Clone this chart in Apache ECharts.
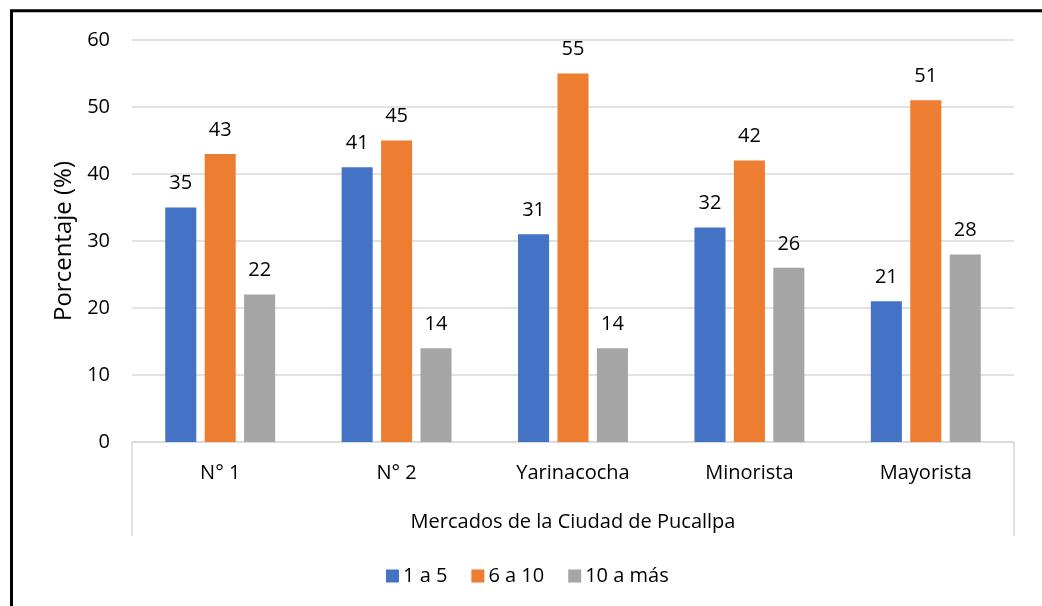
<!DOCTYPE html>
<html>
<head>
<meta charset="utf-8">
<script src="https://cdn.jsdelivr.net/npm/echarts@6/dist/echarts.min.js"></script>
<style>
  html, body { margin: 0; padding: 0; background: #fff; }
  #chart { width: 1042px; height: 606px; }
</style>
</head>
<body>
<div id="chart"></div>
<script>
// Mercados de Pucallpa: distribution by group (percent)
const categories = ['N° 1', 'N° 2', 'Yarinacocha', 'Minorista', 'Mayorista'];
const seriesNames = ['1 a 5', '6 a 10', '10 a más'];
const valuesA = [35, 41, 31, 32, 21];   // 1 a 5
const valuesB = [43, 45, 55, 42, 51];   // 6 a 10
const valuesC = [22, 14, 14, 26, 28];   // 10 a más
const yTicks = { min: 0, max: 60, interval: 10 };

const colors = ['#4472C4', '#ED7D31', '#A5A5A5'];
const FONT = '"Open Sans", "Noto Sans", sans-serif';
const TEXT = '#000000';

const gridLeft = 132, gridRight = 28, gridTop = 40, gridBottom = 164;
const W = 1042, H = 606;

const chart = echarts.init(document.getElementById('chart'), null, { renderer: 'canvas' });

function barSeries(name, data, color) {
  return {
    name: name,
    type: 'bar',
    data: data,
    barWidth: '17.6%',
    barGap: '27%',
    itemStyle: { color: color },
    label: {
      show: true,
      position: 'top',
      distance: 14,
      color: TEXT,
      fontFamily: FONT,
      fontSize: 20
    }
  };
}

const axisBottom = H - gridBottom;
const bracketBottom = 536;

chart.setOption({
  animation: false,
  backgroundColor: '#ffffff',
  textStyle: { fontFamily: FONT, color: TEXT },
  grid: { left: gridLeft, right: gridRight, top: gridTop, bottom: gridBottom, containLabel: false },
  legend: {
    data: seriesNames,
    left: 381,
    top: 561,
    itemWidth: 13,
    itemHeight: 13,
    itemGap: 24,
    icon: 'rect',
    textStyle: { fontFamily: FONT, fontSize: 20, color: TEXT, padding: [0, 0, 0, -1] }
  },
  xAxis: {
    type: 'category',
    data: categories,
    name: 'Mercados de la Ciudad de Pucallpa',
    nameLocation: 'middle',
    nameGap: 70,
    nameTextStyle: { fontFamily: FONT, fontSize: 20, color: TEXT },
    axisLine: { show: true, lineStyle: { color: '#D9D9D9', width: 1.5 } },
    axisTick: { show: false },
    axisLabel: { fontFamily: FONT, fontSize: 20, color: TEXT, margin: 21 },
    splitLine: { show: false }
  },
  yAxis: {
    type: 'value',
    min: yTicks.min,
    max: yTicks.max,
    interval: yTicks.interval,
    name: 'Porcentaje (%)',
    nameLocation: 'middle',
    nameRotate: 90,
    nameGap: 56,
    nameTextStyle: { fontFamily: FONT, fontSize: 24, color: TEXT },
    axisLine: { show: false },
    axisTick: { show: false },
    axisLabel: { fontFamily: FONT, fontSize: 20, color: TEXT, margin: 22 },
    splitLine: { show: true, lineStyle: { color: '#D9D9D9', width: 1.5 } }
  },
  series: [
    barSeries(seriesNames[0], valuesA, colors[0]),
    barSeries(seriesNames[1], valuesB, colors[1]),
    barSeries(seriesNames[2], valuesC, colors[2])
  ],
  graphic: [
    // bracket around the category axis title
    {
      type: 'line',
      shape: { x1: gridLeft, y1: axisBottom, x2: gridLeft, y2: bracketBottom },
      style: { stroke: '#D9D9D9', lineWidth: 1.5 }
    },
    {
      type: 'line',
      shape: { x1: W - gridRight, y1: axisBottom, x2: W - gridRight, y2: bracketBottom },
      style: { stroke: '#D9D9D9', lineWidth: 1.5 }
    },
    // frame around the chart
    {
      type: 'rect',
      shape: { x: 11.5, y: 10.8, width: 1100, height: 700 },
      style: { fill: 'none', stroke: '#000000', lineWidth: 3 },
      silent: true
    }
  ]
});
</script>
</body>
</html>
